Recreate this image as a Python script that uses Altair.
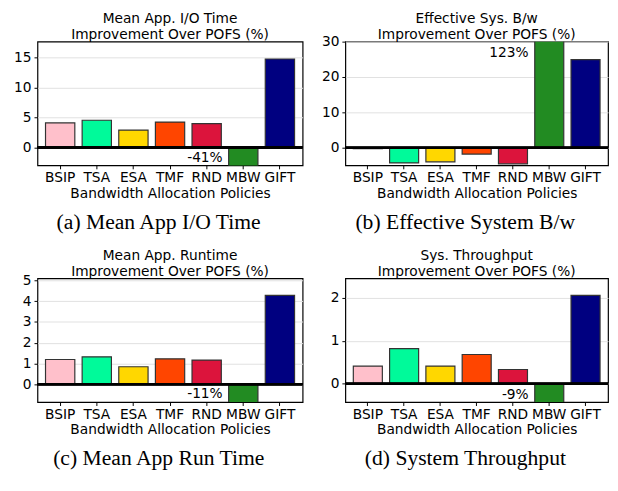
import altair as alt
import pandas as pd

policies = ["BSIP", "TSA", "ESA", "TMF", "RND", "MBW", "GIFT"]
colors = ["#FFC0CB", "#00FA9A", "#FFD700", "#FF4500", "#DC143C", "#228B22", "#000080"]

io_time = [4.1, 4.55, 2.9, 4.25, 4.0, -41, 14.8]
sys_bw = [-0.3, -4.3, -4.0, -1.8, -4.55, 123, 24.9]
runtime = [1.19, 1.32, 0.84, 1.22, 1.16, -11, 4.28]
throughput = [0.41, 0.82, 0.41, 0.68, 0.33, -9, 2.06]

series = [io_time, sys_bw, runtime, throughput]
titles = [
    ["Mean App. I/O Time", "Improvement Over POFS (%)"],
    ["Effective Sys. B/w", "Improvement Over POFS (%)"],
    ["Mean App. Runtime", "Improvement Over POFS (%)"],
    ["Sys. Throughput", "Improvement Over POFS (%)"],
]
captions = ["(a) Mean App I/O Time", "(b) Effective System B/w",
            "(c) Mean App Run Time", "(d) System Throughput"]
y_domains = [[-3, 17.7], [-5, 30], [-0.86, 5.1], [-0.43, 2.46]]
y_ticks = [[0, 5, 10, 15], [0, 10, 20, 30], [0, 1, 2, 3, 4, 5], [0, 1, 2]]
note_text = ["-41%", "123%", "-11%", "-9%"]
note_y = [-1.75, 26.8, -0.48, -0.26]
widths = [270, 267.5, 270, 267.5]
title_offsets = [-0.5, -7.5, -5.4, -0.5]

FONT = "DejaVu Sans"
FS = 14


def panel(values, title, caption, dom, ticks, note, ny, w, toff):
    df = pd.DataFrame({"policy": policies, "value": values})
    yscale = alt.Scale(domain=dom, nice=False)
    yaxis = alt.Axis(values=ticks, title=None, grid=True, labelOverlap=False)
    x = alt.X("policy:N", sort=policies,
              scale=alt.Scale(paddingInner=0.2, paddingOuter=0.22),
              axis=alt.Axis(title="Bandwidth Allocation Policies", labelAngle=0))
    y = alt.Y("value:Q", scale=yscale, axis=yaxis)
    bars = alt.Chart(df).mark_bar(clip=True, stroke="#333333", strokeWidth=1.2).encode(
        x=x, y=y,
        color=alt.Color("policy:N", scale=alt.Scale(domain=policies, range=colors), legend=None),
    )
    zero = alt.Chart(df).mark_rule(color="black", strokeWidth=2).encode(
        y=alt.Y(datum=0, scale=yscale, axis=yaxis))
    ndf = pd.DataFrame({"policy": ["MBW"], "value": [ny], "t": [note]})
    notes = alt.Chart(ndf).mark_text(align="right", baseline="middle", dx=-21,
                                     fontSize=FS, font=FONT, color="black").encode(
        x=x, y=y, text="t:N")
    layer = alt.layer(bars, zero, notes).properties(
        width=w, height=126,
        title=alt.Title(title, font=FONT, fontSize=FS, fontWeight="normal",
                        lineHeight=16, offset=toff, color="black", frame="group"),
    )
    return alt.vconcat(layer, title=alt.Title(caption, orient="bottom", anchor="middle",
                                               font="Liberation Serif",
                                               fontSize=22, fontWeight="normal", color="black",
                                               offset=11.5))


panels = [panel(series[i], titles[i], captions[i], y_domains[i], y_ticks[i], note_text[i],
                note_y[i], widths[i], title_offsets[i]) for i in range(4)]

row1 = alt.hconcat(panels[0], panels[1], spacing=16.5)
row2 = alt.hconcat(panels[2], panels[3], spacing=16.5)

chart = alt.vconcat(row1, row2, spacing=15).properties(
    padding={"top": -1, "left": 5, "right": 0, "bottom": 0}
).configure_axis(
    labelFont=FONT, titleFont=FONT, labelFontSize=FS, titleFontSize=FS,
    titleFontWeight="normal", labelColor="black", titleColor="black",
    tickColor="black", tickSize=3.5, domain=False, gridColor="#e0e0e0",
).configure_axisX(grid=False, labelPadding=2, titlePadding=2).configure_axisY(
    minExtent=24, labelPadding=3
).configure_view(stroke="black", strokeWidth=1.2)

chart.save("out.html", embed_options={"renderer": "svg", "actions": False})
